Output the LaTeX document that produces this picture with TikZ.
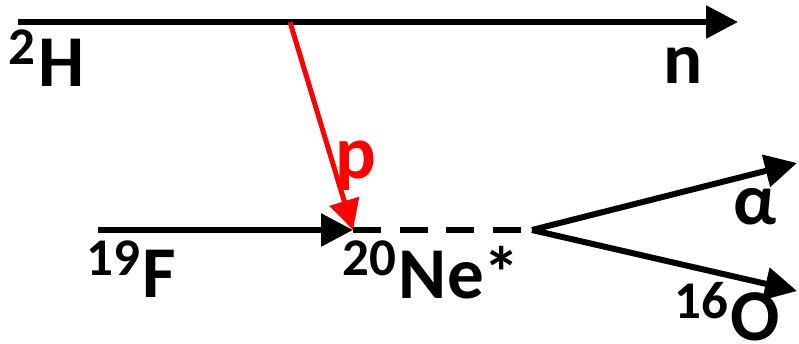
\documentclass[tikz,border=0pt]{standalone}
\usepackage{fontspec}
\setmainfont{Carlito}
\usetikzlibrary{arrows.meta,positioning}
\tikzset{
  track/.style={line width=6pt, -{Triangle[length=32pt,width=32pt]}},
  ptrack/.style={line width=5pt, red, -{Triangle[length=30pt,width=30pt]}},
  excited/.style={line width=6pt, dash pattern=on 28pt off 18.7pt},
  lbl/.style={font=\fontsize{73}{80}\selectfont\bfseries, inner sep=0pt, anchor=base west},
}
\newcommand{\isotope}[2]{{\fontsize{53}{53}\selectfont\raisebox{22pt}{#1}}\kern3pt#2}
\begin{document}
\begin{tikzpicture}[x=1pt, y=-1pt]
  \useasboundingbox (0,0) rectangle (799,344);
  % beam and target tracks
  \coordinate (dIn) at (18,22);
  \coordinate (nOut) at (738,22);
  \coordinate (strip) at (290,22);
  \coordinate (fIn) at (98,230);
  \coordinate (ne) at (353,230);
  \coordinate (decay) at (532,230);
  \coordinate (aOut) at (797,163);
  \coordinate (oOut) at (797,291);
  \draw[track] (dIn) -- (nOut);
  \draw[track] (fIn) -- (ne);
  \draw[excited] (ne) -- (decay);
  \draw[track] (decay) -- (aOut);
  \draw[track] (decay) -- (oOut);
  \draw[ptrack] (strip) -- (ne);
  % labels
  \node[lbl] (deut) at (8,87) {\isotope{2}{H}};
  \node[lbl] (neut) at (663,84) {n};
  \node[lbl, text=red, font=\fontsize{76}{80}\selectfont\bfseries] (prot) at (335,179) {p};
  \node[lbl] (fluor) at (86,297) {\isotope{19}{F}};
  \node[lbl] (neon) at (342,298) {\isotope{20}{Ne*}};
  \node[lbl] (alph) at (733,225) {α};
  \node[lbl] (oxy) at (674,340) {\isotope{16}{O}};
\end{tikzpicture}
\end{document}
